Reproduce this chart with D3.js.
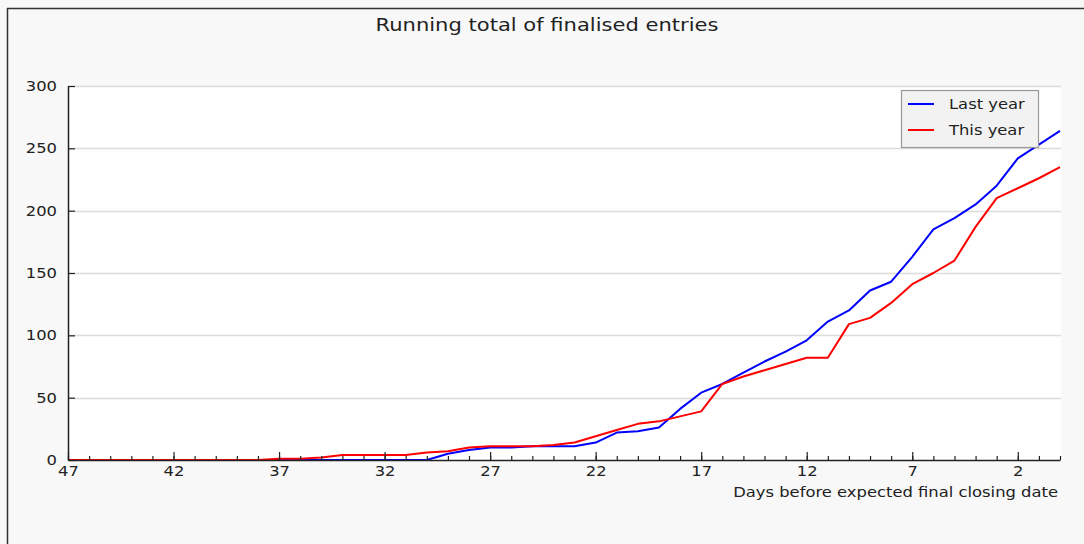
<!DOCTYPE html>
<html>
<head>
<meta charset="utf-8">
<script src="https://cdn.jsdelivr.net/npm/d3@7"></script>
<style>
  html, body { margin: 0; padding: 0; background: #f8f8f8; }
  svg { display: block; }
  text { font-family: "DejaVu Sans", sans-serif; fill: #222; }
</style>
</head>
<body>
<svg id="chart" width="1084" height="544"></svg>
<script>
const days = d3.range(47, -1, -1);
const lastYear = [0,0,0,0,0,0,0,0,0,0, 0,0,0,0,0,0,0, 0,5,8,10,10,11,11,11,14,22,23,26,41,54,61,70,79,87,96,111,120,136,143,163,185,194,205,220,242,253,264];
const thisYear = [0,0,0,0,0,0,0,0,0,0, 1,1,2,4,4,4,4, 6,7,10,11,11,11,12,14,19,24,29,31,35,39,61,67,72,77,82,82,109,114,126,141,150,160,187,210,218,226,235];
const xTickValues = [47, 42, 37, 32, 27, 22, 17, 12, 7, 2];
const yTickValues = [0, 50, 100, 150, 200, 250, 300];
const seriesNames = ["Last year", "This year"];
const seriesColors = ["#0000ff", "#ff0000"];
const titleText = "Running total of finalised entries";
const xLabelText = "Days before expected final closing date";

const SX = 1.17; // horizontal stretch of the reference text
function stretch(sel) {
  sel.each(function() {
    const t = d3.select(this);
    const ax = +t.attr("x") || 0;
    t.attr("transform", `translate(${ax},0) scale(${SX},1) translate(${-ax},0)`);
  });
}

const svg = d3.select("#chart");
const W = 1084, H = 544;
const m = {left: 68, right: 1060, top: 86, bottom: 460};

// window frame lines
svg.append("line").attr("x1", 7).attr("x2", W).attr("y1", 8.5).attr("y2", 8.5).attr("stroke", "#333").attr("stroke-width", 1.5);
svg.append("line").attr("x1", 7.5).attr("x2", 7.5).attr("y1", 8).attr("y2", H).attr("stroke", "#333").attr("stroke-width", 1.5);

const x = d3.scaleLinear().domain([47, 0]).range([m.left, m.right]);
const y = d3.scaleLinear().domain([0, 300]).range([m.bottom, m.top]);

// plot background
svg.append("rect").attr("x", m.left).attr("y", m.top).attr("width", m.right - m.left + 1).attr("height", m.bottom - m.top).attr("fill", "#ffffff");

// gridlines
svg.append("g").selectAll("line").data(yTickValues.filter(v => v > 0)).join("line")
  .attr("x1", m.left).attr("x2", m.right + 1)
  .attr("y1", d => Math.round(y(d)) + 0.5).attr("y2", d => Math.round(y(d)) + 0.5)
  .attr("stroke", "#dcdcdc").attr("stroke-width", 1.5);

// lines
const line = d3.line().x((d, i) => x(days[i])).y(d => y(d));
[lastYear, thisYear].forEach((s, k) => {
  svg.append("path").datum(s).attr("d", line).attr("fill", "none")
    .attr("stroke", seriesColors[k]).attr("stroke-width", 2).attr("stroke-linejoin", "round");
});

// x axis: minor ticks every day, major every 5, pointing inward
const xAxisMinor = d3.axisTop(x).tickValues(days).tickSize(4).tickFormat("");
const gxm = svg.append("g").attr("transform", `translate(0,${m.bottom})`).call(xAxisMinor);
gxm.select(".domain").remove();
const xAxis = d3.axisBottom(x).tickValues(xTickValues).tickSize(0).tickPadding(6).tickFormat(d3.format("d"));
const gx = svg.append("g").attr("transform", `translate(0,${m.bottom})`).call(xAxis);
gx.selectAll("text").attr("font-size", 14).attr("font-family", "DejaVu Sans, sans-serif").attr("fill", "#222").call(stretch);
gx.select(".domain").attr("stroke", "#222").attr("stroke-width", 1.5);
const xMajor = d3.axisTop(x).tickValues(xTickValues).tickSize(8).tickFormat("");
const gxM = svg.append("g").attr("transform", `translate(0,${m.bottom})`).call(xMajor);
gxM.select(".domain").remove();
svg.selectAll(".tick line").attr("stroke", "#222").attr("stroke-width", 1.2);

// y axis
const yAxis = d3.axisLeft(y).tickValues(yTickValues).tickSize(0).tickPadding(11);
const gy = svg.append("g").attr("transform", `translate(${m.left},0)`).call(yAxis);
gy.selectAll("text").attr("font-size", 14).attr("font-family", "DejaVu Sans, sans-serif").attr("fill", "#222").call(stretch);
gy.select(".domain").attr("stroke", "#222").attr("stroke-width", 1.5);
const yIn = d3.axisRight(y).tickValues(yTickValues).tickSize(7).tickFormat("");
const gyi = svg.append("g").attr("transform", `translate(${m.left},0)`).call(yIn);
gyi.select(".domain").remove();
gyi.selectAll(".tick line").attr("stroke", "#222").attr("stroke-width", 1.2);

// title
svg.append("text").attr("x", 547).attr("y", 31).attr("text-anchor", "middle").attr("font-size", 18).text(titleText).call(stretch);
// x label
svg.append("text").attr("x", 1058).attr("y", 497).attr("text-anchor", "end").attr("font-size", 14).text(xLabelText).call(stretch);

// legend
const lg = svg.append("g");
lg.append("rect").attr("x", 901.5).attr("y", 90.5).attr("width", 137).attr("height", 57).attr("fill", "#f2f2f2").attr("stroke", "#999").attr("stroke-width", 1.2);
seriesNames.forEach((n, k) => {
  const yy = 104 + k * 26;
  lg.append("line").attr("x1", 908).attr("x2", 934).attr("y1", yy).attr("y2", yy).attr("stroke", seriesColors[k]).attr("stroke-width", 2);
  lg.append("text").attr("x", 949).attr("y", yy + 5).attr("font-size", 14).text(n).call(stretch);
});
</script>
</body>
</html>
